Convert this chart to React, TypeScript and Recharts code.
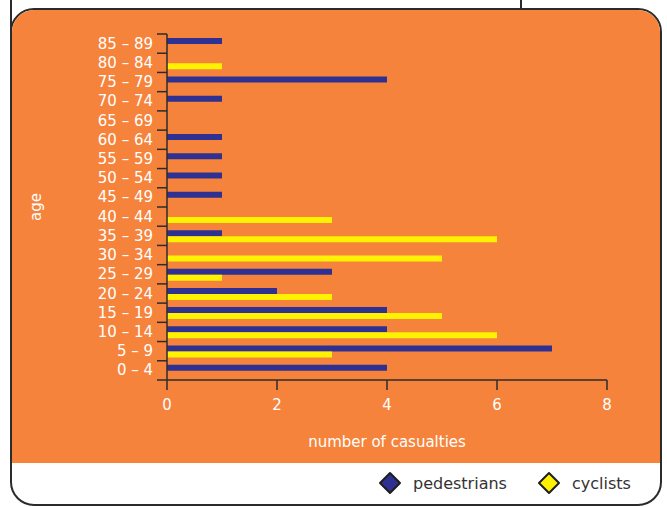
import React from 'react';
import { BarChart, Bar, XAxis, YAxis, Label } from 'recharts';

// age bands, bottom to top
const ageBands = [
  '0 – 4', '5 – 9', '10 – 14', '15 – 19', '20 – 24', '25 – 29', '30 – 34', '35 – 39', '40 – 44',
  '45 – 49', '50 – 54', '55 – 59', '60 – 64', '65 – 69', '70 – 74', '75 – 79', '80 – 84', '85 – 89',
];
const pedestrians = [4, 7, 4, 4, 2, 3, 0, 1, 0, 1, 1, 1, 1, 0, 1, 4, 0, 1];
const cyclists = [0, 3, 6, 5, 3, 1, 5, 6, 3, 0, 0, 0, 0, 0, 0, 0, 1, 0];
const xTicks = [0, 2, 4, 6, 8];

const ORANGE = '#F6833B';
const BLUE = '#2E3192';
const YELLOW = '#FFF200';
const AXIS = '#2b2b2b';

const data = ageBands.map((age, i) => ({ age, pedestrians: pedestrians[i], cyclists: cyclists[i] }));

const PLOT_TOP = 34;
const PLOT_BOTTOM = 380;
const BAND = (PLOT_BOTTOM - PLOT_TOP) / ageBands.length;

const AgeTick = (props: any) => {
  const { x, y, payload, index } = props;
  return (
    <g>
      <line x1={x + 4} x2={x + 14} y1={y - BAND / 2} y2={y - BAND / 2} stroke={AXIS} strokeWidth={1.5} />
      {index === 0 && (
        <line x1={x + 4} x2={x + 14} y1={y + BAND / 2} y2={y + BAND / 2} stroke={AXIS} strokeWidth={1.5} />
      )}
      <text x={x} y={y} dy={5} textAnchor="end" fill="#fff" fontSize={15} fontFamily="DejaVu Sans">
        {payload.value}
      </text>
    </g>
  );
};

const Diamond = ({ color }: { color: string }) => (
  <svg width={24} height={24} style={{ display: 'block' }}>
    <path d="M12 2 L22 12 L12 22 L2 12 Z" fill={color} stroke="#1f1f1f" strokeWidth={2} strokeLinejoin="round" />
  </svg>
);

export default function App() {
  return (
    <div style={{ position: 'absolute', left: 0, top: 0, width: 667, height: 507, background: '#fff', fontFamily: 'DejaVu Sans', overflow: 'hidden' }}>
      {/* edges of the panel above */}
      <div style={{ position: 'absolute', left: 10, top: 0, width: 1.5, height: 40, background: AXIS }} />
      <div style={{ position: 'absolute', left: 520, top: 0, width: 1.5, height: 9, background: AXIS }} />

      <div style={{ position: 'absolute', left: 10, top: 8, width: 648, height: 494, border: `2px solid ${AXIS}`, borderRadius: 24, overflow: 'hidden', background: '#fff' }}>
        <div style={{ position: 'absolute', left: 0, top: 0, right: 0, height: 453, background: ORANGE }} />
      </div>

      <div style={{ position: 'absolute', left: 0, top: 0 }}>
        <BarChart width={667} height={507} data={data} layout="vertical" barSize={6} barGap={0}
          margin={{ top: PLOT_TOP, right: 60, bottom: 57, left: 27 }}>
          <XAxis type="number" domain={[0, 8]} ticks={xTicks} height={70} stroke={AXIS} strokeWidth={1.5}
            tickSize={10} tickMargin={9} tick={{ fill: '#fff', fontSize: 15, fontFamily: 'DejaVu Sans' }}>
            <Label value="number of casualties" position="insideBottom" offset={3} fill="#fff" fontSize={15} fontFamily="DejaVu Sans" />
          </XAxis>
          <YAxis type="category" dataKey="age" reversed width={140} stroke={AXIS} strokeWidth={1.5}
            tickLine={false} tickSize={10} tickMargin={4} interval={0} tick={<AgeTick />} />
          <Bar dataKey="pedestrians" fill={BLUE} isAnimationActive={false} />
          <Bar dataKey="cyclists" fill={YELLOW} isAnimationActive={false} />
        </BarChart>
      </div>

      <div style={{ position: 'absolute', left: 36, top: 207, transform: 'translate(-50%, -50%) rotate(-90deg)', color: '#fff', fontSize: 15 }}>
        age
      </div>

      <div style={{ position: 'absolute', left: 378, top: 471, display: 'flex', alignItems: 'center', color: '#333', fontSize: 16 }}>
        <Diamond color={BLUE} />
        <span style={{ marginLeft: 11, marginRight: 30 }}>pedestrians</span>
        <Diamond color={YELLOW} />
        <span style={{ marginLeft: 11 }}>cyclists</span>
      </div>
    </div>
  );
}
